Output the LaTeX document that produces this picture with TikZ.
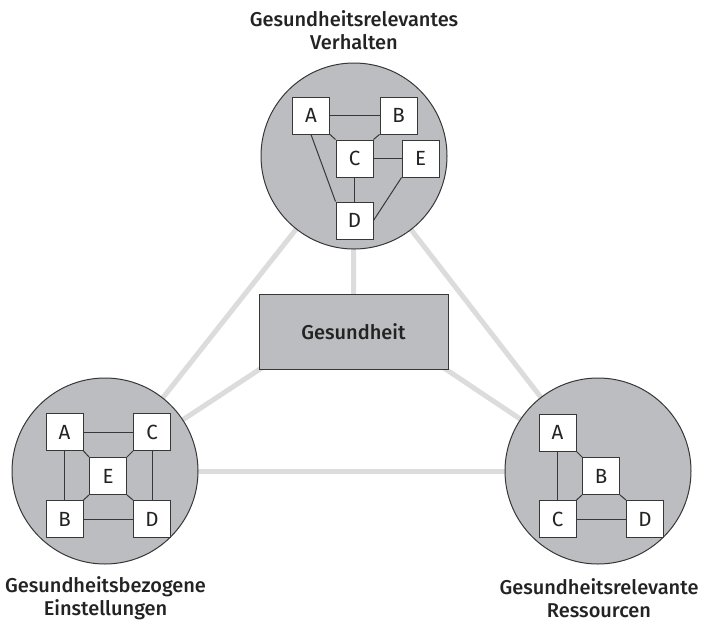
\documentclass[tikz,border=0pt]{standalone}
\usepackage{fontspec}
\setmainfont{Fira Sans Medium}
\newfontfamily\boxfont{Fira Sans}
\usetikzlibrary{backgrounds,calc}
\definecolor{circfill}{RGB}{188,189,192}
\definecolor{edgegray}{RGB}{55,55,55}
\definecolor{conngray}{RGB}{220,220,220}
\definecolor{txt}{RGB}{35,35,35}
\begin{document}
\begin{tikzpicture}[x=1pt,y=-1pt,
  hub/.style={circle,draw=edgegray,fill=circfill,line width=1pt,minimum size=186pt,inner sep=0pt},
  hubrect/.style={draw=edgegray,fill=circfill,line width=1pt,minimum width=189pt,minimum height=75pt,inner sep=0pt,text=txt,font=\fontsize{20}{23}\selectfont},
  box/.style={draw=edgegray,fill=white,line width=1pt,minimum size=37pt,inner sep=0pt,text=txt,font=\boxfont\fontsize{20.5}{23}\selectfont},
  link/.style={draw=edgegray,line width=1pt},
  conn/.style={draw=conngray,line width=5pt},
  lbl/.style={align=center,inner sep=0pt,text=txt,font=\fontsize{20}{23.5}\selectfont}]
\useasboundingbox (0,0) rectangle (701,622);
% hubs
\node[hub] (T) at (354,156) {};
\node[hub] (L) at (105,471) {};
\node[hub] (R) at (598,471) {};
\node[hubrect] (G) at (353.5,331.5) {Gesundheit};
% background connectors
\begin{scope}[on background layer]
\draw[conn] (T.center) -- (L.center);
\draw[conn] (T.center) -- (R.center);
\draw[conn] (L.center) -- (R.center);
\draw[conn] (T.center) -- (G.center);
\draw[conn] (L.center) -- ($(G.center)+(0,-24)$);
\draw[conn] (R.center) -- ($(G.center)+(0,-24)$);
\end{scope}
% top network
\node[box] (tA) at (311,115.5) {A};
\node[box] (tB) at (398.5,115.5) {B};
\node[box] (tC) at (354.5,158.5) {C};
\node[box] (tE) at (420.5,158.5) {E};
\node[box] (tD) at (354.5,220.5) {D};
\draw[link] (tA) -- (tB);
\draw[link] (tA.south east) -- (tC.north west);
\draw[link] (tB.south west) -- (tC.north east);
\draw[link] (tC) -- (tE);
\draw[link] (tC) -- (tD);
\draw[link] (tA.south) -- (tD.north west);
\draw[link] (tE.south west) -- (tD.east);
% left network
\node[box] (lA) at (64.5,432) {A};
\node[box] (lC) at (152,432) {C};
\node[box] (lE) at (108,476) {E};
\node[box] (lB) at (64.5,519) {B};
\node[box] (lD) at (152,519) {D};
\draw[link] (lA) -- (lC);
\draw[link] (lA) -- (lB);
\draw[link] (lC) -- (lD);
\draw[link] (lB) -- (lD);
\draw[link] (lA.south east) -- (lE.north west);
\draw[link] (lC.south west) -- (lE.north east);
\draw[link] (lB.north east) -- (lE.south west);
\draw[link] (lD.north west) -- (lE.south east);
% right network
\node[box] (rA) at (557.5,432.5) {A};
\node[box] (rB) at (601,476) {B};
\node[box] (rC) at (557.5,519) {C};
\node[box] (rD) at (645,519) {D};
\draw[link] (rA) -- (rC);
\draw[link] (rC) -- (rD);
\draw[link] (rA.south east) -- (rB.north west);
\draw[link] (rB.south west) -- (rC.north east);
\draw[link] (rB.south east) -- (rD.north west);
% labels
\node[lbl] (tl) at (354,30) {Gesundheitsrelevantes\\Verhalten};
\node[lbl] (ll) at (105.5,598) {Gesundheitsbezogene\\Einstellungen};
\node[lbl] (rl) at (599,598) {Gesundheitsrelevante\\Ressourcen};
\end{tikzpicture}
\end{document}
